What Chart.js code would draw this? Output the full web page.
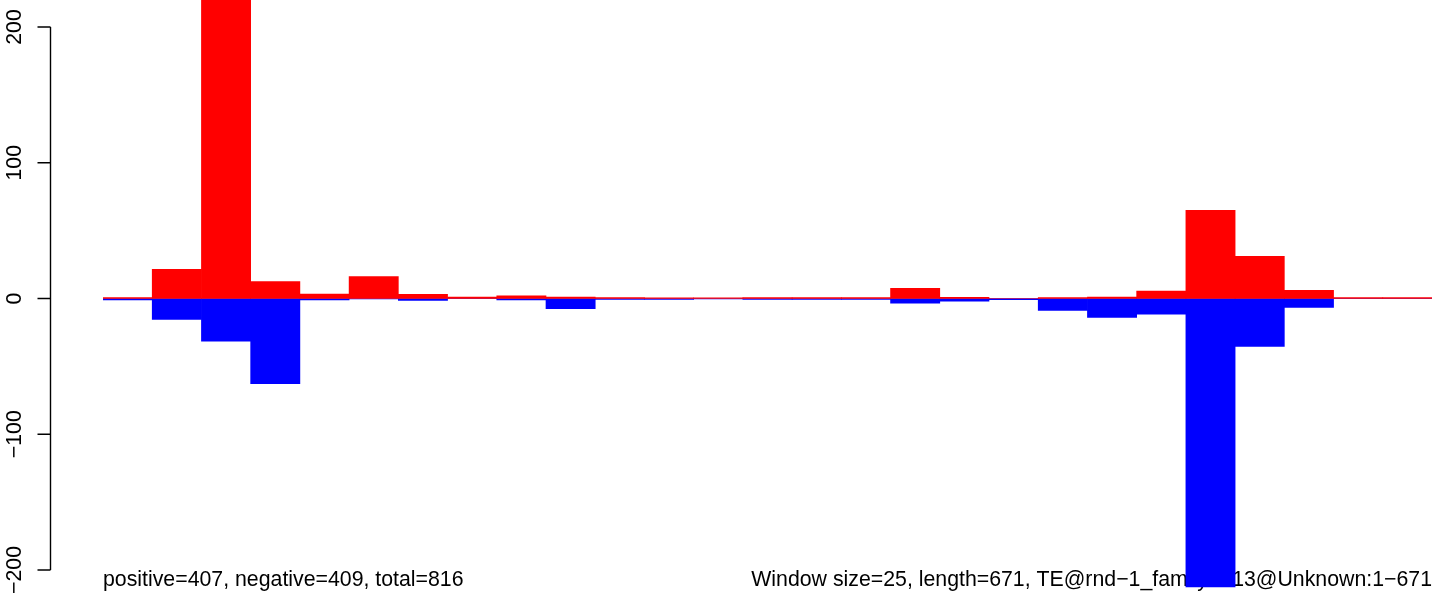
<!DOCTYPE html>
<html>
<head>
<meta charset="utf-8">
<script src="https://cdn.jsdelivr.net/npm/chart.js@4/dist/chart.umd.min.js"></script>
<style>
  html, body { margin: 0; padding: 0; background: #fff; }
  #wrap { width: 1444px; height: 594px; }
</style>
</head>
<body>
<div id="wrap"><canvas id="te_chart" width="1444" height="594"></canvas></div>
<script>
// windows of 25 bp along the TE (length 671)
var windows = ['1-25', '26-50', '51-75', '76-100', '101-125', '126-150', '151-175',
    '176-200', '201-225', '226-250', '251-275', '276-300', '301-325', '326-350',
    '351-375', '376-400', '401-425', '426-450', '451-475', '476-500', '501-525',
    '526-550', '551-575', '576-600', '601-625', '626-650', '651-671'];

// (bar 3 runs off the top of the plot)
var positive = [0.7, 21.4, 223, 12.5, 3.3, 16.2, 3, 1, 2, 1, 0.7, 0.5, 0.4, 0.6,
    0.6, 0.7, 7.5, 0.8, 0, 0.7, 1, 5.5, 65, 31, 6, 0.6, 0.6];
var negative = [-1, -15.5, -31.4, -62.8, -1, -0.3, -1.5, -0.2, -1, -7.5, -0.7, -0.6,
    -0.3, -0.6, -0.6, -0.6, -3.5, -2, -0.8, -8.8, -14, -11.5, -212.5, -35.3, -6.5, -0.2, -0.2];

var yTicks = [-200, -100, 0, 100, 200];
var yTickLabels = ['\u2212200', '\u2212100', '0', '100', '200'];

var footLeft = 'positive=407, negative=409, total=816';
var footRight = 'Window size=25, length=671, TE@rnd\u22121_family\u2212313@Unknown:1\u2212671';

var fontFamily = '"Liberation Sans", Arial, Helvetica, sans-serif';

// R style axis on the left + the two captions under the bars
var rAxis = {
    id: 'rAxis',
    beforeDatasetsDraw: function(chart) {
        var ctx = chart.ctx, y = chart.scales.y;
        var axisX = 50.5, tickLen = 13;
        ctx.save();
        ctx.strokeStyle = '#000';
        ctx.lineWidth = 1.4;
        ctx.beginPath();
        ctx.moveTo(axisX, y.getPixelForValue(yTicks[0]));
        ctx.lineTo(axisX, y.getPixelForValue(yTicks[yTicks.length - 1]));
        for (var i = 0; i < yTicks.length; i++) {
            var p = y.getPixelForValue(yTicks[i]);
            ctx.moveTo(axisX - tickLen, p);
            ctx.lineTo(axisX, p);
        }
        ctx.stroke();

        ctx.fillStyle = '#000';
        ctx.font = '21.3px ' + fontFamily;
        for (var j = 0; j < yTicks.length; j++) {
            var py = y.getPixelForValue(yTicks[j]);
            ctx.save();
            ctx.translate(20.5, py);
            ctx.rotate(-Math.PI / 2);
            ctx.textAlign = 'center';
            ctx.textBaseline = 'alphabetic';
            ctx.fillText(yTickLabels[j], 0, 0);
            ctx.restore();
        }

        ctx.textBaseline = 'alphabetic';
        ctx.textAlign = 'left';
        ctx.fillText(footLeft, chart.chartArea.left, 586);
        ctx.textAlign = 'right';
        ctx.fillText(footRight, chart.chartArea.right, 586);
        ctx.restore();
    }
};

var te_ctx = document.getElementById('te_chart').getContext('2d');
var te_chart = new Chart(te_ctx, {
    type: 'bar',
    data: {
        labels: windows,
        datasets: [{
            label: 'positive',
            data: positive,
            backgroundColor: '#ff0000',
            borderWidth: 0
        }, {
            label: 'negative',
            data: negative,
            backgroundColor: '#0000ff',
            borderWidth: 0
        }]
    },
    options: {
        responsive: false,
        animation: false,
        layout: {
            padding: { left: 103, right: 12, top: 0, bottom: 0 }
        },
        datasets: {
            bar: { barPercentage: 1, categoryPercentage: 1 }
        },
        scales: {
            x: { display: false, stacked: true },
            y: { display: false, stacked: true, min: -217.7, max: 219.9 }
        },
        plugins: {
            legend: { display: false },
            tooltip: { enabled: false }
        }
    },
    plugins: [rAxis]
});
</script>
</body>
</html>
